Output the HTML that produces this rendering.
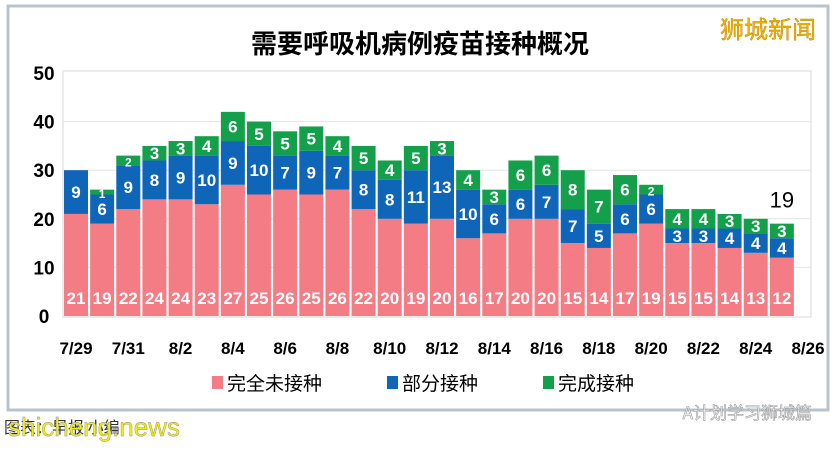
<!DOCTYPE html>
<html><head><meta charset="utf-8"><style>
body{margin:0;width:835px;height:447px;background:#fff;overflow:hidden;font-family:"Liberation Sans","Noto Sans CJK SC",sans-serif;}
</style></head><body>
<svg id="c" width="835" height="447" xmlns="http://www.w3.org/2000/svg">
<rect x="8" y="6" width="820" height="404" fill="#fff" stroke="#b8c4cc" stroke-width="3"/>
<rect x="63" y="71" width="748" height="246" fill="none" stroke="#d8d8d8"/>
<text x="420" y="53" text-anchor="middle" font-size="26" font-weight="bold" font-family="'Noto Sans CJK SC',sans-serif">需要呼吸机病例疫苗接种概况</text>
<text x="768" y="38" text-anchor="middle" font-size="24" fill="#f0b400" stroke="#c08000" stroke-width="0.4" font-family="'Noto Sans CJK SC',sans-serif">狮城新闻</text>
<g id="grid"></g><g id="bars"></g><g id="ax"></g>
<g font-size="19" font-family="'Noto Sans CJK SC',sans-serif">
<rect x="212" y="376" width="11" height="13" fill="#f47c85"/>
<text x="227" y="390">完全未接种</text>
<rect x="387" y="376" width="11" height="13" fill="#0f66b8"/>
<text x="402" y="390">部分接种</text>
<rect x="543" y="376" width="11" height="13" fill="#14a04a"/>
<text x="558" y="390">完成接种</text>
</g>
<text x="4" y="433" font-size="16" fill="#333" font-family="'Noto Sans CJK SC',sans-serif">图表：早报 小编</text>
<text x="8" y="436" font-size="26" fill="#f5ee00" stroke="#888" stroke-width="0.4">shicheng.news</text>
<text x="812" y="419" text-anchor="end" font-size="17" fill="#fff" stroke="#999" stroke-width="0.6" font-family="'Noto Sans CJK SC',sans-serif">A计划学习狮城篇</text>
</svg>
<script>
const dates=["7/29","7/30","7/31","8/1","8/2","8/3","8/4","8/5","8/6","8/7","8/8","8/9","8/10","8/11","8/12","8/13","8/14","8/15","8/16","8/17","8/18","8/19","8/20","8/21","8/22","8/23","8/24","8/25"];
const unvaccinated=[21,19,22,24,24,23,27,25,26,25,26,22,20,19,20,16,17,20,20,15,14,17,19,15,15,14,13,12];
const partial=[9,6,9,8,9,10,9,10,7,9,7,8,8,11,13,10,6,6,7,7,5,6,6,3,3,4,4,4];
const full=[0,1,2,3,3,4,6,5,5,5,4,5,4,5,3,4,3,6,6,8,7,6,2,4,4,3,3,3];
const xLabels=["7/29","7/31","8/2","8/4","8/6","8/8","8/10","8/12","8/14","8/16","8/18","8/20","8/22","8/24","8/26"];
const yTicks=[0,10,20,30,40,50];
const NS="http://www.w3.org/2000/svg";
const x0=76,step=(808-76)/28,y0=316,ppu=(316-73)/50,bw=24;
const X=i=>x0+i*step, Y=v=>y0-v*ppu;
function mk(t,a,p,txt){const e=document.createElementNS(NS,t);for(const k in a)e.setAttribute(k,a[k]);if(txt!==undefined)e.textContent=txt;p.appendChild(e);return e;}
const grid=document.getElementById('grid'),bars=document.getElementById('bars'),ax=document.getElementById('ax');
yTicks.forEach(v=>{
 if(v>0&&v<50){const l=mk('line',{x1:63,x2:811,y1:Y(v),y2:Y(v),stroke:'#e4e4e4'},grid);
 
 }
 const t=mk('text',{x:44,y:Y(v)+7,'text-anchor':'middle','font-size':19,'font-weight':'bold'},ax,v);
 
 
});
xLabels.forEach((s,i)=>{
 const t=mk('text',{x:X(i*2),y:354,'text-anchor':'middle','font-size':17,'font-weight':'bold'},ax,s);
 
 
});
const series=[[unvaccinated,'#f47c85','unvaccinated'],[partial,'#0f66b8','partial'],[full,'#14a04a','full']];
dates.forEach((d,i)=>{
 let base=0;
 series.forEach(([arr,col,nm])=>{
  const v=arr[i]; if(!v){return;}
  const r=mk('rect',{x:X(i)-bw/2,y:Y(base+v),width:bw,height:v*ppu,fill:col},bars);
  
  
  const cy=nm==='unvaccinated'?Y(base)-12:(Y(base)+Y(base+v))/2+6;
  const t=mk('text',{x:X(i),y:cy,'text-anchor':'middle','font-size':v*ppu<10?12:17,'font-weight':'bold',fill:'#fff'},bars,v);
  
  
  base+=v;
 });
});
const last=dates.length-1,tot=unvaccinated[last]+partial[last]+full[last];
const tt=mk('text',{x:X(last),y:Y(tot)-16,'text-anchor':'middle','font-size':22},ax,tot);


</script>
</body></html>
